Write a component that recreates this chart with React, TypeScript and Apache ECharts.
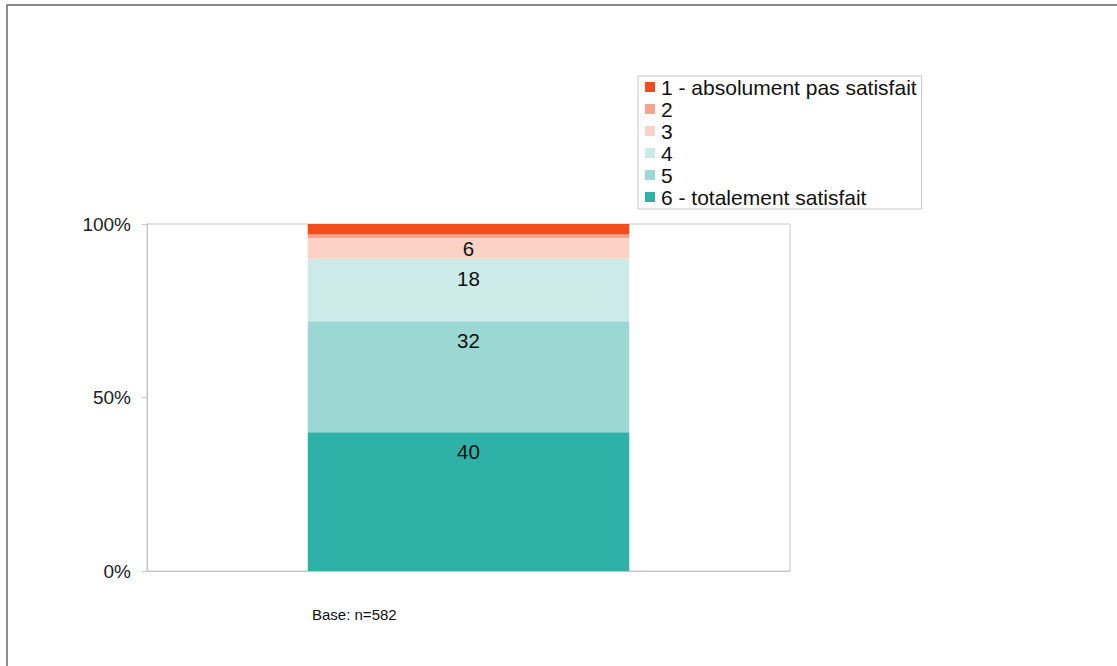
import React, { useEffect, useRef } from "react";
import * as echarts from "echarts";

const categories = ["Total"];
const seriesNames = [
  "1 - absolument pas satisfait",
  "2",
  "3",
  "4",
  "5",
  "6 - totalement satisfait",
];
const seriesValues = [3, 1, 6, 18, 32, 40];
const seriesLabels = ["", "", "6", "18", "32", "40"];
const seriesColors = ["#F34B1B", "#F7A38B", "#FCD2C6", "#CCEAE8", "#9BD8D3", "#2EB1A7"];
const yTicks = [0, 50, 100];
const baseNote = "Base: n=582";

export default function App() {
  const ref = useRef<HTMLDivElement>(null);
  useEffect(() => {
    if (!ref.current) return;
    const chart = echarts.init(ref.current, undefined, { renderer: "svg" });
    const font = "'Liberation Sans', Arial, sans-serif";
    const order = [5, 4, 3, 2, 1, 0];
    chart.setOption({
      animation: false,
      textStyle: { fontFamily: font },
      grid: {
        left: 147,
        top: 224,
        right: 327,
        bottom: 95,
        show: true,
        borderColor: "#c6c6c6",
        borderWidth: 1,
      },
      legend: {
        orient: "vertical",
        left: 638,
        top: 76,
        data: seriesNames.map((n) => ({ name: n, icon: "rect" })),
        itemWidth: 10,
        itemHeight: 10,
        itemGap: 0,
        padding: [0, 5, 1, 7],
        borderColor: "#c6c6c6",
        borderWidth: 1,
        textStyle: {
          fontSize: 21,
          lineHeight: 22,
          color: "#111",
          fontFamily: font,
          padding: [0, 0, 0, 1],
        },
        selectedMode: false,
      },
      xAxis: {
        type: "category",
        data: categories,
        axisLine: { show: true, lineStyle: { color: "#c6c6c6" } },
        axisTick: { show: false },
        axisLabel: { show: false },
      },
      yAxis: {
        type: "value",
        min: yTicks[0],
        max: yTicks[yTicks.length - 1],
        interval: 50,
        axisLine: { show: true, lineStyle: { color: "#c6c6c6" } },
        axisTick: { show: true, length: 5, lineStyle: { color: "#c6c6c6" } },
        splitLine: { show: false },
        axisLabel: {
          formatter: "{value}%",
          fontSize: 19,
          color: "#222",
          margin: 16,
          fontFamily: font,
        },
      },
      series: order.map((i) => ({
        name: seriesNames[i],
        type: "bar",
        stack: "total",
        barWidth: "50%",
        data: [seriesValues[i]],
        itemStyle: { color: seriesColors[i] },
        label: {
          show: seriesLabels[i] !== "",
          position: seriesValues[i] < 10 ? "inside" : "insideTop",
          distance: 9,
          formatter: () => seriesLabels[i],
          fontSize: 20.5,
          color: "#111",
          fontFamily: font,
        },
      })),
      graphic: [
        {
          type: "rect",
          shape: { x: 7, y: 5, width: 1200, height: 800 },
          style: { fill: "none", stroke: "#666", lineWidth: 1.5 },
          silent: true,
        },
        {
          type: "text",
          left: 312,
          top: 607,
          style: { text: baseNote, fontSize: 15, fill: "#111", fontFamily: font },
        },
      ],
    });
    return () => chart.dispose();
  }, []);
  return (
    <div
      ref={ref}
      style={{ position: "absolute", left: 0, top: 0, width: 1117, height: 666, background: "#fff" }}
    />
  );
}
